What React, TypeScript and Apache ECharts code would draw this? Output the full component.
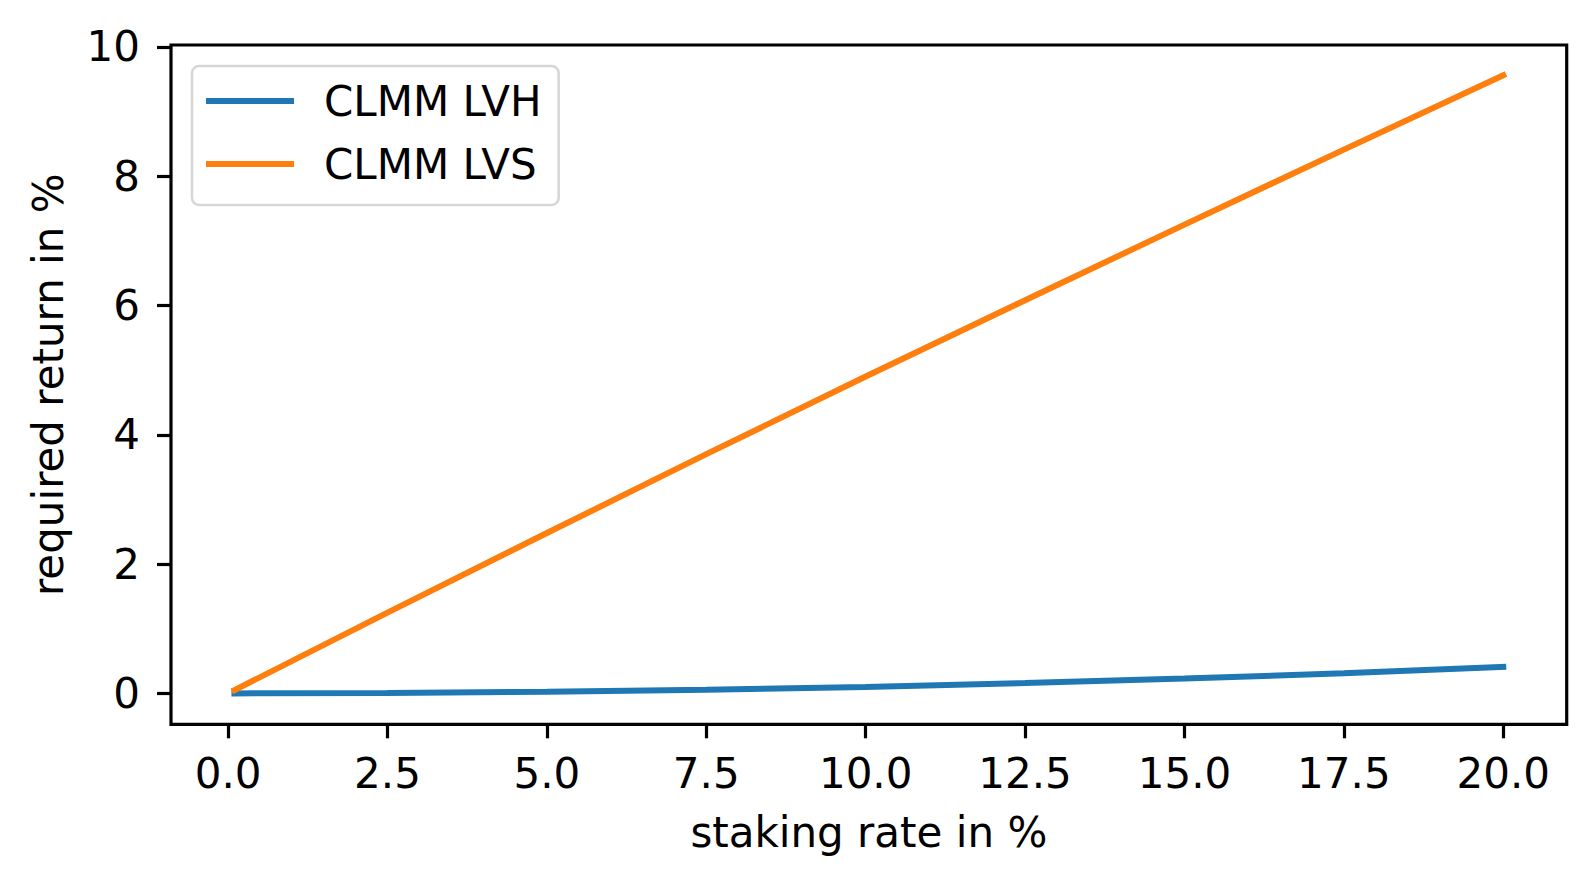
import React, { useEffect, useRef } from "react";
import * as echarts from "echarts";

const stakingRate = [0.1, 2.5, 5, 7.5, 10, 12.5, 15, 17.5, 20];
const clmmLVH = [0.0, 0.006, 0.026, 0.058, 0.1, 0.16, 0.23, 0.31, 0.41];
const clmmLVS = [0.05, 1.25, 2.48, 3.7, 4.9, 6.08, 7.25, 8.41, 9.56];
const xTicks = [0, 2.5, 5, 7.5, 10, 12.5, 15, 17.5, 20];
const yTicks = [0, 2, 4, 6, 8, 10];
const seriesNames = ["CLMM LVH", "CLMM LVS"];

const FONT = "DejaVu Sans";
const FS = 42;

export default function App() {
  const ref = useRef<HTMLDivElement>(null);
  useEffect(() => {
    document.body.style.margin = "0";
    if (!ref.current) return;
    const chart = echarts.init(ref.current, null, { renderer: "svg" });
    const pair = (ys: number[]) => stakingRate.map((x, i) => [x, ys[i]]);
    chart.setOption({
      animation: false,
      backgroundColor: "#ffffff",
      textStyle: { fontFamily: FONT },
      grid: {
        left: 171,
        right: 28.3,
        top: 45,
        bottom: 159.7,
        containLabel: false,
        outerBoundsMode: "none",
        show: true,
        borderColor: "#000000",
        borderWidth: 3.2,
        backgroundColor: "transparent",
      },
      legend: {
        orient: "vertical",
        left: 192,
        top: 66,
        data: seriesNames,
        icon: "rect",
        itemWidth: 88,
        itemHeight: 6,
        itemGap: 21,
        padding: [14, 17, 20, 14],
        backgroundColor: "#ffffff",
        borderColor: "rgba(204,204,204,0.8)",
        borderWidth: 2.5,
        borderRadius: 7,
        textStyle: {
          fontFamily: FONT,
          fontSize: FS,
          color: "#000000",
          lineHeight: 41,
          padding: [0, 0, 0, 25],
        },
      },
      xAxis: {
        type: "value",
        min: -0.895,
        max: 20.995,
        name: "staking rate in %",
        nameLocation: "middle",
        nameGap: 87,
        nameTextStyle: { fontFamily: FONT, fontSize: FS, color: "#000000" },
        axisLine: { show: false, onZero: false },
        splitLine: { show: false },
        axisTick: {
          show: true,
          length: 14,
          lineStyle: { color: "#000000", width: 3.2 },
          customValues: xTicks,
        },
        axisLabel: {
          fontFamily: FONT,
          fontSize: FS,
          color: "#000000",
          margin: 28,
          customValues: xTicks,
          formatter: (v: number) => v.toFixed(1),
        },
      },
      yAxis: {
        type: "value",
        min: -0.478,
        max: 10.028,
        name: "required return in %",
        nameLocation: "middle",
        nameRotate: 90,
        nameGap: 102,
        nameTextStyle: { fontFamily: FONT, fontSize: FS, color: "#000000" },
        axisLine: { show: false, onZero: false },
        splitLine: { show: false },
        axisTick: {
          show: true,
          length: 14,
          lineStyle: { color: "#000000", width: 3.2 },
          customValues: yTicks,
        },
        axisLabel: {
          fontFamily: FONT,
          fontSize: FS,
          color: "#000000",
          margin: 31,
          customValues: yTicks,
          formatter: (v: number) => String(v),
        },
      },
      series: [
        {
          name: seriesNames[0],
          type: "line",
          data: pair(clmmLVH),
          showSymbol: false,
          symbol: "none",
          smooth: false,
          color: "#1f77b4",
          lineStyle: { color: "#1f77b4", width: 6, cap: "square" },
        },
        {
          name: seriesNames[1],
          type: "line",
          data: pair(clmmLVS),
          showSymbol: false,
          symbol: "none",
          smooth: false,
          color: "#ff7f0e",
          lineStyle: { color: "#ff7f0e", width: 6, cap: "square" },
        },
      ],
    });
    return () => chart.dispose();
  }, []);
  return <div ref={ref} style={{ width: 1595, height: 884 }} />;
}
